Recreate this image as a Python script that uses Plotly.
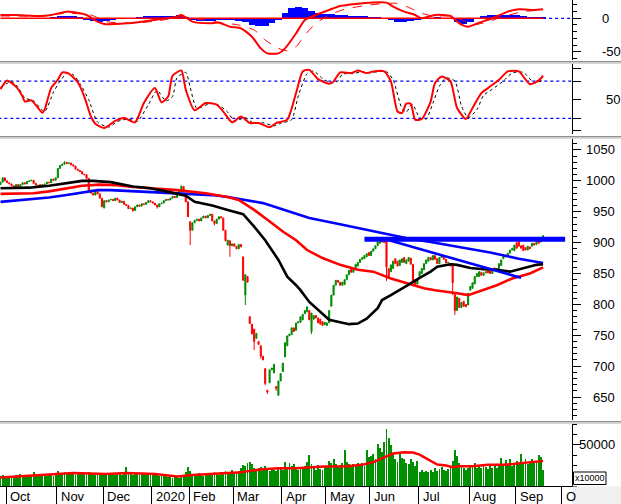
import pandas as pd
import plotly.graph_objects as go
from plotly.subplots import make_subplots

# ---------------- data ----------------
close_oct = [998, 1005, 1000, 997, 995, 992, 990, 994, 991, 994, 997, 995, 999, 1000, 1001, 996, 993, 991, 994, 992, 995, 998, 997, 1003, 1001, 1005]
close_nov = [1020, 1025, 1027, 1030, 1028, 1029, 1026, 1024, 1019, 1017, 1015, 1011, 1010, 1004, 985, 980, 977, 983, 979, 972, 958]
close_dec = [968, 966, 969, 970, 968, 972, 969, 965, 967, 962, 960, 955, 956, 952, 958, 961, 959, 963, 962, 965, 968, 966]
close_jan = [964, 961, 958, 963, 964, 968, 970, 969, 972, 975, 973, 978, 985, 991, 985, 966, 942]
close_feb = [920, 932, 936, 938, 935, 940, 943, 940, 944, 946, 935, 931, 938, 942, 940, 920, 903, 904, 895, 898]
close_mar = [894, 890, 897, 893, 839, 848, 836, 769, 752, 740, 753, 735, 716, 710, 672, 658, 694, 697, 703, 664, 676, 688]
close_apr = [705, 738, 749, 752, 762, 756, 770, 772, 780, 784, 790, 796, 775, 786, 782, 778, 770, 768, 766, 771]
close_may = [770, 790, 815, 831, 839, 836, 831, 836, 840, 848, 855, 852, 858, 865, 868, 873, 876, 879, 882, 879]
close_jun = [886, 890, 895, 901, 903, 901, 900, 860, 845, 864, 870, 866, 862, 872, 874, 868, 872, 876, 865, 836, 832, 840]
close_jul = [853, 858, 866, 872, 876, 872, 879, 873, 866, 876, 879, 873, 867, 868, 862, 835, 790, 812, 795, 803, 797, 796, 818]
close_aug = [829, 835, 845, 850, 853, 847, 851, 853, 851, 850, 854, 855, 858, 866, 872, 880, 877, 883, 888, 891, 896]
close_sep = [891, 894, 891, 887, 888, 894, 890, 899, 896, 902, 899, 908, 911]

open_overrides = {0: 994, 47: 956, 84: 977, 86: 934, 103: 896, 104: 903, 110: 877, 111: 815, 112: 845,
                  113: 780, 114: 768, 115: 760, 116: 745, 117: 740, 118: 733, 120: 696, 121: 661,
                  122: 673, 123: 694, 124: 689, 125: 667, 126: 653, 128: 691, 129: 715, 130: 733,
                  132: 751, 134: 758, 136: 771, 137: 775, 138: 785, 139: 788, 140: 790, 141: 756,
                  142: 776, 145: 776, 146: 772, 147: 767, 148: 766, 150: 797, 151: 815, 152: 831,
                  156: 832, 159: 858, 162: 862, 165: 874, 166: 877, 167: 884, 172: 899, 173: 903,
                  174: 903, 175: 902, 176: 858, 177: 853, 178: 858, 179: 874, 180: 870, 181: 863,
                  182: 868, 183: 876, 184: 866, 185: 870, 186: 875, 188: 840, 189: 833, 190: 845,
                  191: 850, 192: 856, 194: 870, 198: 874, 204: 866, 205: 866, 206: 816, 208: 810,
                  210: 805, 211: 800, 212: 799, 213: 823, 214: 826, 215: 833, 217: 845, 218: 852,
                  221: 856, 222: 854, 224: 859, 227: 863, 228: 874, 233: 887, 234: 900, 235: 902,
                  236: 895, 237: 896, 238: 892, 240: 893, 241: 894, 242: 899, 243: 897, 244: 904,
                  245: 901, 246: 906}
high_overrides = {29: 1032, 82: 993, 172: 906, 174: 905, 246: 912}
low_overrides = {60: 950, 71: 955, 86: 896, 97: 928, 104: 877, 111: 799, 115: 726, 118: 712,
                 120: 669, 121: 655, 125: 660, 126: 652, 141: 752, 175: 838, 205: 815, 206: 783}

vol_oct = [12500, 13500, 11800, 12200, 11000, 12800, 11500, 13000, 12000, 14500, 13800, 12300, 11500, 12900, 13600, 16500, 13200, 12400, 13000, 12100, 11700, 12800, 13500, 14200, 12600, 15000]
vol_nov = [18500, 16000, 15500, 17200, 14800, 16300, 15000, 14200, 13900, 15600, 16800, 14700, 15200, 13800, 17500, 15900, 14400, 13600, 15100, 14900, 16200]
vol_dec = [14800, 15600, 13900, 14200, 16100, 13500, 14600, 15300, 13200, 14900, 23000, 15800, 14100, 13600, 15200, 14400, 13000, 14700, 15900, 13800, 14300, 15100]
vol_jan = [14200, 13100, 15600, 12400, 11800, 13500, 12900, 10800, 11500, 9800, 12600, 10500, 9200, 11300, 12800, 16500, 23500]
vol_feb = [17800, 13600, 12900, 14800, 15600, 13200, 12400, 14100, 16300, 13800, 15200, 17000, 14500, 13300, 16800, 15900, 18200, 14800, 16500, 19000]
vol_mar = [17500, 16200, 18900, 21500, 26000, 24500, 28000, 29500, 26800, 22000, 19500, 21800, 23000, 19800, 24200, 20500, 18600, 21000, 19200, 17800, 22500, 20800]
vol_apr = [19800, 29000, 21200, 27500, 24800, 26500, 22000, 19500, 21800, 20500, 23800, 29500, 37500, 27000, 22500, 20000, 25500, 21000, 19800, 23500]
vol_may = [24500, 31000, 27500, 33000, 27000, 23000, 25500, 28500, 44000, 29000, 26800, 24000, 26500, 25800, 27500, 25200, 28000, 25000, 43500, 35000]
vol_jun = [36000, 39600, 33000, 51000, 45800, 41000, 54000, 69600, 58300, 50000, 39600, 33000, 29000, 39600, 34000, 33300, 28000, 27000, 33300, 29500, 25000, 31000]
vol_jul = [17000, 19500, 16500, 18000, 17500, 19000, 16800, 21500, 18200, 20500, 23000, 19800, 18500, 21000, 24000, 31000, 44500, 37000, 27500, 24000, 21500, 19800, 22500]
vol_aug = [26000, 23500, 27800, 22000, 24500, 21800, 25200, 23000, 20800, 24000, 22500, 26500, 21500, 24800, 34500, 27000, 31500, 26000, 33500, 24500, 28000]
vol_sep = [30500, 27500, 38500, 29000, 32500, 27000, 30000, 33500, 28500, 31000, 37500, 35500, 19500]

vma_x = [0, 15, 33, 48, 57, 70, 75, 80, 87, 94, 100, 109, 114, 119, 126, 134, 141, 147, 157, 164, 169, 174, 178, 183, 187, 190, 194, 198, 202, 205, 208, 214, 221, 228, 236, 241, 246]
vma_y = [10400, 12500, 15800, 14600, 15800, 14600, 13300, 11700, 13300, 14600, 15800, 16700, 18750, 20400, 21700, 21700, 22900, 23750, 24200, 25800, 29200, 35400, 39600, 41250, 40800, 38300, 32000, 26250, 25000, 22900, 24200, 24200, 25800, 25800, 27900, 28750, 30400]

ma50_x = [0, 13, 22, 30, 37, 42, 50, 60, 68, 75, 84, 88, 96, 103, 110, 115, 120, 126, 130, 134, 136, 140, 145, 149, 154, 158, 162, 166, 171, 173, 177, 181, 186, 190, 195, 198, 204, 207, 213, 219, 225, 231, 237, 243, 246]
ma50_y = [988, 989, 992, 996, 1000, 1000, 998, 991, 988, 983, 976, 966, 960, 953, 946, 926, 904, 872, 845, 831, 823, 804, 787, 775, 771, 768, 769, 777, 794, 807, 815, 823, 834, 843, 853, 861, 865, 864, 859, 857, 856, 853, 858, 864, 865]
ma100_x = [0, 15, 22, 30, 37, 45, 53, 60, 68, 80, 93, 103, 108, 115, 121, 128, 134, 139, 146, 154, 162, 169, 177, 184, 192, 197, 202, 207, 212, 217, 225, 232, 240, 246]
ma100_y = [979, 980, 983, 988, 992, 994, 993, 990, 988, 985, 980, 974, 969, 953, 937, 918, 904, 888, 875, 864, 856, 853, 842, 834, 826, 823, 821, 818, 815, 821, 831, 842, 850, 860]
ma200_x = [0, 15, 22, 30, 37, 44, 50, 60, 68, 80, 96, 103, 111, 119, 126, 134, 140, 155, 171, 186, 195, 208, 222, 235, 246]
ma200_y = [966, 970, 973, 977, 981, 985, 985, 983, 982, 980, 977, 974, 969, 964, 956, 947, 940, 929, 917, 906, 901, 893, 884, 874, 867]
trend_x = [175, 236]
trend_y = [905, 843]
band_x = [165, 256]
band_y = [905.5, 905.5]

macd_x = [0, 7, 18, 23, 30, 36, 39, 44, 47, 57, 64, 72, 79, 82, 87, 95, 99, 104, 109, 114, 118, 121, 126, 129, 134, 138, 143, 149, 154, 161, 169, 175, 178, 183, 188, 191, 197, 204, 208, 212, 217, 223, 230, 235, 242, 246]
macd_y = [5, 5, 3.5, 5, 10, 7.5, 5, -5, -8.5, -7.5, -5, -1.5, 1.5, 5, -5, -7.5, -6.5, -12.5, -15, -27.5, -45, -52.5, -52.5, -45, -22.5, -2.5, 5, 12.5, 18.5, 21.5, 23.5, 23.5, 17.5, 10, 5, 0, 5, 3.5, -7.5, -12.5, -6.5, 0, 10, 13.5, 12.5, 13.5]
sig_x = [0, 18, 30, 41, 48, 59, 72, 82, 90, 100, 108, 115, 120, 126, 130, 134, 138, 143, 149, 156, 165, 172, 179, 185, 190, 196, 203, 210, 214, 221, 228, 237, 246]
sig_y = [3.5, 3.5, 7.5, 5, -5, -7.5, -3.5, 2.5, -1.5, -6.5, -10, -17.5, -32.5, -45, -48.5, -42.5, -25, -7.5, 5, 13.5, 19, 21.5, 22.5, 16.5, 8.5, 3.5, 3.5, -3.5, -10, -5, 2.5, 10, 12.5]
hist_vals = [1, 1, 0.5, 1, 0.5, 0.5, 0.5, 1, 2, 3.5, 4, 3.5, 2, -2, -4, -5, -4.5, -2, -1, -0.5, 1, 2.5, 3.5, 4, 3.5, 3, 4, 5, 2, -3, -4, -4, -3.5, -2, -2, -3, -4, -6, -10, -12, -11, -7, -2, 8, 15, 16.5, 15, 11, 8, 6.5, 6, 5.5, 5, 4, 3.5, 3, 2.5, 1.5, -1, -3, -5, -5, -4, -3, -0.5, 1, 1.5, 1, -1, -6, -8, -6, 1, 4, 5, 5, 5, 4.5, 5, 4, 2, 1.5, 1.5]

stoch_k_x = [0, 3, 7, 10, 11, 14, 19, 20, 23, 26, 28, 31, 35, 38, 41, 43, 47, 52, 56, 61, 65, 70, 73, 76, 78, 82, 84, 88, 93, 98, 101, 105, 109, 113, 117, 122, 125, 130, 134, 137, 140, 144, 149, 151, 154, 159, 162, 166, 169, 174, 177, 180, 182, 184, 186, 188, 191, 195, 197, 200, 204, 207, 211, 214, 218, 221, 226, 230, 235, 240, 244, 246]
stoch_k_y = [67, 81, 71, 55, 47, 49, 29, 34, 69, 82, 94, 92, 78, 55, 23, 11.5, 4.5, 16, 20.6, 13.6, 44.7, 68.7, 45.7, 55, 88.5, 97, 66, 33, 44.7, 42, 31, 13.6, 23, 12.6, 12.6, 5.6, 12.6, 18, 60.7, 95.5, 98, 83, 75.7, 79.4, 94, 92.8, 97, 92.8, 95.5, 95.5, 79.4, 31, 28.6, 43.6, 43.6, 18, 19, 47, 76.7, 87.4, 79.4, 36.6, 19, 36.6, 60.7, 68.7, 82, 95.5, 95.5, 75, 81, 88.5]
stoch_d_x = [0, 5, 8, 11, 15, 20, 24, 27, 30, 33, 36, 40, 44, 49, 53, 58, 62, 67, 71, 75, 78, 80, 84, 86, 89, 95, 99, 103, 106, 111, 114, 119, 124, 127, 132, 135, 139, 142, 146, 150, 153, 155, 160, 164, 167, 171, 175, 178, 182, 184, 186, 187, 190, 193, 196, 199, 202, 206, 209, 212, 216, 219, 223, 228, 232, 237, 242, 246]
stoch_d_y = [70, 79, 70, 53, 48, 31, 62, 80, 92, 90, 76, 50, 14, 6, 15, 19, 15, 42, 65, 48, 55, 85, 94, 70, 36, 44, 41, 30, 16, 21, 14, 13, 8, 12, 18, 56, 92, 96, 84, 77, 80, 91, 92, 95, 93, 95, 95, 82, 36, 30, 41, 42, 21, 19, 44, 72, 85, 80, 40, 21, 34, 57, 67, 80, 93, 94, 77, 82]
stoch_levels = [20, 80]

price_ticks = [650, 700, 750, 800, 850, 900, 950, 1000, 1050]
month_names = {1: "2020", 2: "Feb", 3: "Mar", 4: "Apr", 5: "May", 6: "Jun", 7: "Jul",
               8: "Aug", 9: "Sep", 10: "Oct", 11: "Nov", 12: "Dec"}

# ---------------- build ----------------
close = close_oct + close_nov + close_dec + close_jan + close_feb + close_mar + close_apr + close_may + close_jun + close_jul + close_aug + close_sep
volume = vol_oct + vol_nov + vol_dec + vol_jan + vol_feb + vol_mar + vol_apr + vol_may + vol_jun + vol_jul + vol_aug + vol_sep
n = len(close)
idx = list(range(n))
open_ = [open_overrides.get(i, close[i - 1] if i > 0 else close[0]) for i in idx]
high = [high_overrides.get(i, max(open_[i], close[i])) for i in idx]
low = [low_overrides.get(i, min(open_[i], close[i])) for i in idx]

holidays = {"2020-01-01", "2020-01-23", "2020-01-24", "2020-01-27", "2020-01-28", "2020-01-29",
            "2020-04-02", "2020-04-30", "2020-05-01", "2020-09-02"}
days = [d for d in pd.bdate_range("2019-09-26", "2020-10-05") if d.strftime("%Y-%m-%d") not in holidays]
bounds, blabels = [], []
for k in range(1, len(days)):
    if days[k].month != days[k - 1].month:
        bounds.append(k - 0.5)
        blabels.append(month_names[days[k].month])
blabels[-1] = "O"

GREEN = "#008c00"
RED = "#ff0000"
BLUE = "#0000ff"
FONT = "Liberation Sans, Arial, sans-serif"

fig = make_subplots(rows=4, cols=1, shared_xaxes=True, vertical_spacing=0.0)

# MACD panel
fig.add_trace(go.Bar(x=list(range(0, n, 3)), y=hist_vals, width=3, marker=dict(color=BLUE, line=dict(width=0))), row=1, col=1)
fig.add_trace(go.Scatter(x=[0, n - 1], y=[0, 0], mode="lines", line=dict(color=RED, width=1.5)), row=1, col=1)
fig.add_trace(go.Scatter(x=[n - 1, 262], y=[0, 0], mode="lines", line=dict(color=BLUE, width=1.2, dash="dot")), row=1, col=1)
fig.add_trace(go.Scatter(x=sig_x, y=sig_y, mode="lines", line=dict(color=RED, width=1, dash="dash", shape="spline", smoothing=0.6)), row=1, col=1)
fig.add_trace(go.Scatter(x=macd_x, y=macd_y, mode="lines", line=dict(color=RED, width=2, shape="spline", smoothing=0.6)), row=1, col=1)

# Stochastic panel
for lv in stoch_levels:
    fig.add_trace(go.Scatter(x=[-1, 262], y=[lv, lv], mode="lines", line=dict(color=BLUE, width=1.2, dash="dot")), row=2, col=1)
fig.add_trace(go.Scatter(x=stoch_d_x, y=stoch_d_y, mode="lines", line=dict(color="black", width=1, dash="dot", shape="spline", smoothing=0.6)), row=2, col=1)
fig.add_trace(go.Scatter(x=stoch_k_x, y=stoch_k_y, mode="lines", line=dict(color=RED, width=2, shape="spline", smoothing=0.6)), row=2, col=1)

# Price panel
fig.add_trace(go.Scatter(x=ma200_x, y=ma200_y, mode="lines", line=dict(color=BLUE, width=2.6)), row=3, col=1)
fig.add_trace(go.Scatter(x=ma100_x, y=ma100_y, mode="lines", line=dict(color=RED, width=2.6)), row=3, col=1)
fig.add_trace(go.Scatter(x=ma50_x, y=ma50_y, mode="lines", line=dict(color="black", width=2.6)), row=3, col=1)
fig.add_trace(go.Scatter(x=trend_x, y=trend_y, mode="lines", line=dict(color=BLUE, width=2.6)), row=3, col=1)
fig.add_trace(go.Scatter(x=band_x, y=band_y, mode="lines", line=dict(color=BLUE, width=5)), row=3, col=1)
fig.add_trace(go.Candlestick(x=idx, open=open_, high=high, low=low, close=close,
                             increasing=dict(line=dict(color=GREEN, width=1), fillcolor=GREEN),
                             decreasing=dict(line=dict(color=RED, width=1), fillcolor=RED),
                             whiskerwidth=0, hoverinfo="skip"), row=3, col=1)

# Volume panel
fig.add_trace(go.Bar(x=idx, y=volume, width=0.85, marker=dict(color="#008f00", line=dict(width=0))), row=4, col=1)
fig.add_trace(go.Scatter(x=vma_x, y=vma_y, mode="lines", line=dict(color=RED, width=2.5)), row=4, col=1)

H = 486.0
W = 572.0
def py(px):
    return (H - px) / H

xr = [-0.23, 259.1]
for k in range(1, 5):
    fig.update_layout(**{
        ("xaxis" if k == 1 else f"xaxis{k}"): dict(range=xr, showgrid=False, zeroline=False,
                                                   showticklabels=False, ticks="", showline=False,
                                                   rangeslider=dict(visible=False)),
    })
fig.update_layout(xaxis4=dict(range=xr, showgrid=False, zeroline=False, showline=True, linecolor="black",
                              linewidth=1, tickmode="array", tickvals=bounds, ticktext=[""] * len(bounds),
                              ticks="outside", ticklen=17, tickwidth=1, tickcolor="black",
                              showticklabels=False, rangeslider=dict(visible=False)))

yax = dict(side="right", showgrid=False, zeroline=False, showline=True, linecolor="black", linewidth=1,
           ticks="outside", ticklen=8, tickwidth=1, tickcolor="black", showticklabels=False)
fig.update_layout(
    yaxis=dict(yax, domain=[py(60), 1.0], range=[-62.4, 27.4], tickmode="array", tickvals=[0, -50],
               minor=dict(dtick=10, tick0=0, ticks="outside", ticklen=4, tickcolor="black")),
    yaxis2=dict(yax, domain=[py(134), py(64)], range=[-5.1, 107.4], tickmode="array",
                tickvals=[0, 20, 50, 80, 100]),
    yaxis3=dict(yax, domain=[py(420), py(139)], range=[612.8, 1067.8], tickmode="array",
                tickvals=price_ticks,
                minor=dict(dtick=10, tick0=0, ticks="outside", ticklen=4, tickcolor="black")),
    yaxis4=dict(yax, domain=[0, py(424)], range=[0, 75600], tickmode="array", tickvals=[50000],
                minor=dict(dtick=12500, tick0=0, ticks="outside", ticklen=4, tickcolor="black")),
)

ann = []
lab_font = dict(family=FONT, size=13, color="black")
for v in price_ticks:
    ann.append(dict(x=617 / W, y=v, xref="paper", yref="y3", text=str(v), showarrow=False,
                    xanchor="right", yanchor="middle", font=lab_font))
ann.append(dict(x=617 / W, y=50000, xref="paper", yref="y4", text="50000", showarrow=False,
                xanchor="right", yanchor="middle", font=lab_font))
for v in [0, -50]:
    ann.append(dict(x=600 / W, y=v, xref="paper", yref="y", text=str(v), showarrow=False,
                    xanchor="left", yanchor="middle", font=lab_font))
ann.append(dict(x=604 / W, y=50, xref="paper", yref="y2", text="50", showarrow=False,
                xanchor="left", yanchor="middle", font=lab_font))
for b, t in zip(bounds, blabels):
    ann.append(dict(x=b + 1.0, y=py(487), xref="x4", yref="paper", text=t, showarrow=False,
                    xanchor="left", yanchor="top", font=lab_font))
ann.append(dict(x=589.5 / W, y=py(478.3), xref="paper", yref="paper", text="x10000", showarrow=False,
                xanchor="center", yanchor="middle", font=dict(family=FONT, size=9, color="black")))

shapes = []
for yp in [61, 136, 421]:
    shapes.append(dict(type="rect", xref="paper", yref="paper", x0=0, x1=621 / W, y0=py(yp + 1.5), y1=py(yp),
                       fillcolor="#8f8f8f", line=dict(width=0), layer="above"))
    shapes.append(dict(type="rect", xref="paper", yref="paper", x0=0, x1=621 / W, y0=py(yp + 3), y1=py(yp + 1.5),
                       fillcolor="#d6d6d6", line=dict(width=0), layer="above"))
shapes.append(dict(type="rect", xref="paper", yref="paper", x0=1.0 + 0.5 / W, x1=621 / W, y0=py(504), y1=py(486.5),
                   fillcolor="#f0f0f0", line=dict(width=0), layer="above"))
shapes.append(dict(type="rect", xref="paper", yref="paper", x0=573.5 / W, x1=606 / W, y0=py(484.5), y1=py(472),
                   fillcolor="white", line=dict(color="black", width=1), layer="above"))

fig.update_layout(
    width=621, height=504,
    margin=dict(l=0, r=49, t=0, b=18, pad=0),
    paper_bgcolor="white", plot_bgcolor="white",
    showlegend=False, hovermode=False,
    bargap=0, annotations=ann, shapes=shapes,
    font=dict(family=FONT, size=13, color="black"),
)

fig.write_html("out.html", include_plotlyjs=True, config={"displayModeBar": False, "staticPlot": True})
